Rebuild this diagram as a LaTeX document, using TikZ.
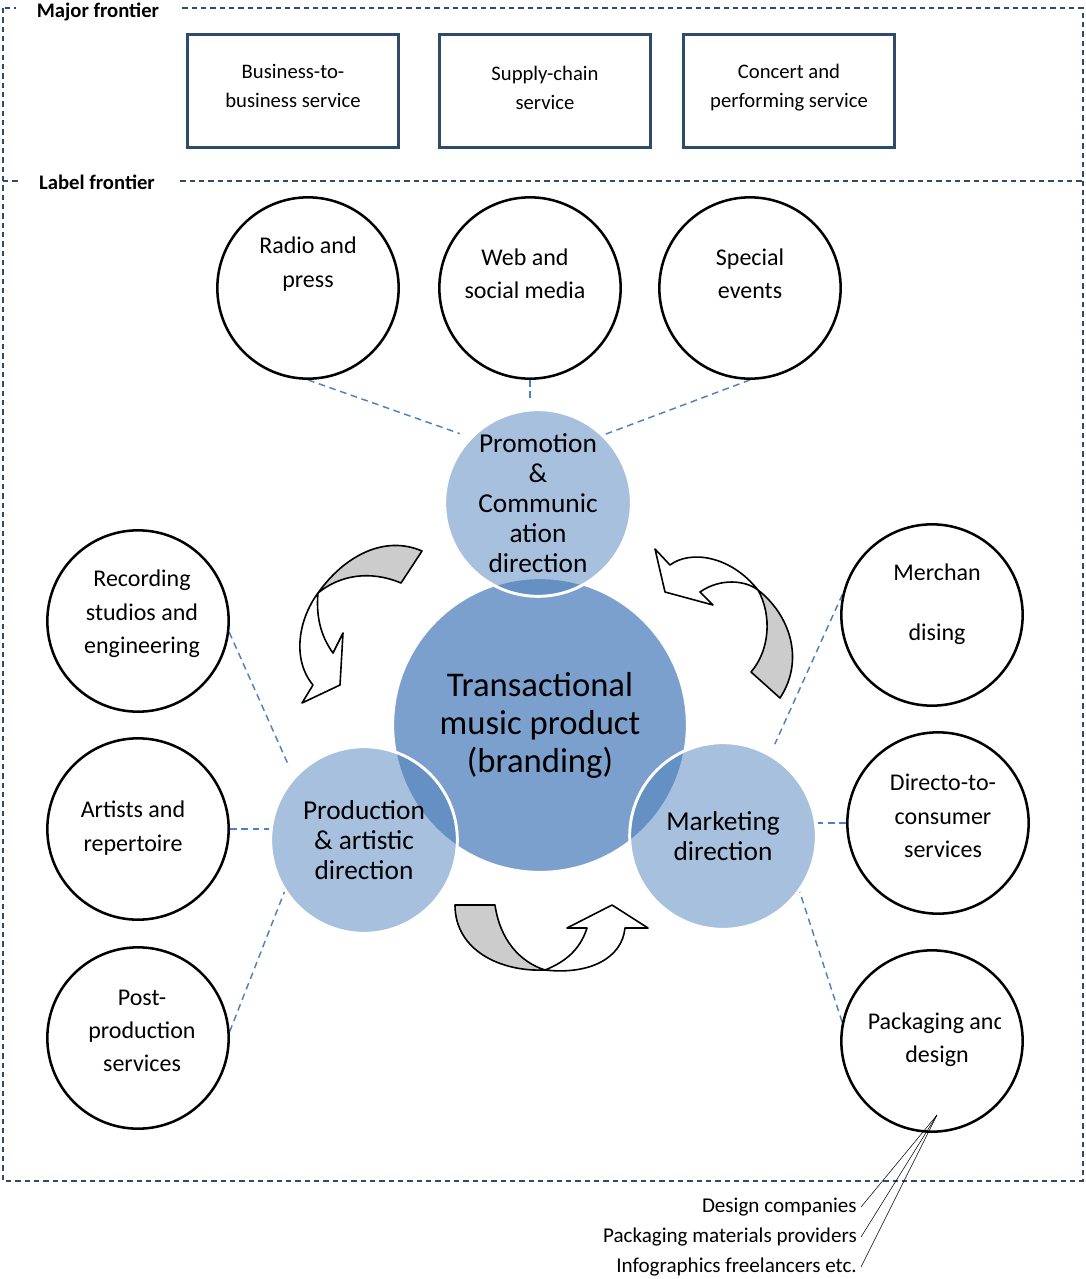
\documentclass[tikz,border=0pt]{standalone}
\usepackage{fontspec}
\setmainfont{Carlito}
\usepackage{tikz}
\usetikzlibrary{calc,backgrounds}
\definecolor{officeblue}{HTML}{4F81BD}
\definecolor{framenavy}{HTML}{2F4A6B}
\tikzstyle{frontier}=[
  draw=framenavy, line width=0.8pt, dash pattern=on 4pt off 3pt
]
\tikzstyle{frontierlabel}=[
  fill=white, inner xsep=16pt, inner ysep=1pt, font=\bfseries\fontsize{15.5}{18}\selectfont
]
\tikzstyle{service}=[
  draw=framenavy, line width=2.2pt, minimum width=158pt, minimum height=85pt,
  align=center, font=\fontsize{15.5}{22}\selectfont
]
\tikzstyle{partner}=[
  draw, circle, line width=1.9pt, fill=white, minimum size=136pt, inner sep=0pt
]
\tikzstyle{partnertext}=[
  align=center, inner sep=1pt, font=\fontsize{18}{25}\selectfont
]
\tikzstyle{hub}=[
  circle, draw=white, line width=2.2pt, fill=officeblue!75!white, minimum size=221pt,
  align=center, font=\fontsize{26}{28.5}\selectfont
]
\tikzstyle{unit}=[
  circle, draw=white, line width=2.2pt, fill=officeblue, fill opacity=0.5, text opacity=1,
  minimum size=140pt, inner sep=0pt, align=center, font=\fontsize{20.5}{22.5}\selectfont
]
\tikzstyle{tie}=[
  draw=officeblue, line width=1.1pt, dash pattern=on 5pt off 3.5pt
]
\tikzstyle{twistarrow}=[
  draw=black, line width=1.2pt, line join=round
]
\tikzstyle{supplier}=[
  anchor=east, inner sep=3pt, font=\fontsize{15.8}{18}\selectfont
]

\begin{document}
\begin{tikzpicture}[x=0.75pt,y=-0.75pt]
    \useasboundingbox (0,0) rectangle (1086,1279);
    % frontiers
    \draw [frontier] (3,8) rectangle (1083,1181);
    \draw [frontier] (3,181) -- (1083,181);
    \node (major) at (98,12) [frontierlabel] {Major frontier};
    \node (labelf) at (97,182) [frontierlabel] {Label frontier};

    \node (b2b) at (293,91) [service] {Business-to-\\business service\\[-14.5pt]};
    \node (supply) at (545,91) [service] {Supply-chain\\service\\[-17.5pt]};
    \node (concert) at (789,91) [service] {Concert and\\performing service\\[-14.5pt]};

    % centre
    \node (hub) at (540,725) [hub] {Transactional\\music product\\(branding)};
    \node (promo) at (538,503) [unit] {Promotion\\\&\\Communic\\ation\\direction};
    \node (prod) at (364,840) [unit] {Production\\\& artistic\\direction};
    \node (mkt) at (723,836) [unit] {Marketing\\direction};

    % partners
    \node (radio) at (308,288) [partner] {};
    \node (web) at (530,288) [partner] {};
    \node (special) at (750,288) [partner] {};
    \node (rec) at (138,621) [partner] {};
    \node (art) at (138,829) [partner] {};
    \node (post) at (138,1038) [partner] {};
    \node (merch) at (932,615) [partner] {};
    \node (dir) at (938,823) [partner] {};
    \node (pack) at (932,1041) [partner] {};

    \node (radiot) at (308,264) [partnertext] {Radio and\\press};
    \node (webt) at (525,274) [partnertext] {Web and\\social media};
    \node (specialt) at (750,274) [partnertext] {Special\\events};
    \node (rect) at (142,614) [partnertext] {Recording\\studios and\\engineering};
    \node (artt) at (133,828) [partnertext] {Artists and\\repertoire};
    \node (postt) at (142,1031) [partnertext] {Post-\\production\\services};
    \node (mercht) at (937,604) [partnertext] {Merchan\\[20pt]dising};
    \node (dirt) at (943,816) [partnertext] {Directo-to-\\consumer\\services};
    \begin{scope}
      \clip (845,990) rectangle (1000.5,1085);
      \node (packt) at (937,1040) [partnertext] {Packaging and\\design};
    \end{scope}

    \begin{scope}[on background layer]
      \draw [tie, shorten >=8pt] (radio.south) -- (promo.136);
      \draw [tie, shorten >=6pt] (web.south) -- (web.south |- promo.north);
      \draw [tie] (special.south) -- (promo.46);
      \draw [tie, shorten >=8pt] (rec.-7) -- (prod.138);
      \draw [tie] (art.east) -- (art.east -| prod.west);
      \draw [tie] (post.4) -- (prod.213);
      \draw [tie, shorten >=8pt] (merch.167) -- (mkt.60);
      \draw [tie] (dir.west) -- (dir.west -| mkt.east);
      \draw [tie] (pack.168) -- (mkt.-36);
    \end{scope}

    % turning arrows
    \draw [twistarrow, fill=gray!40] (318,593) .. controls (345,555) and (385,535) .. (422,551)
      -- (401,583) .. controls (370,570) and (340,575) .. cycle;
    \draw [twistarrow, fill=white] (318,593) .. controls (298,620) and (292,660) .. (313,685)
      -- (302,703) -- (340,685) -- (343,633) -- (333,653) .. controls (320,635) and (316,615) .. cycle;
    \draw [twistarrow, fill=gray!40] (758,590) .. controls (790,615) and (805,660) .. (780,698)
      -- (751,672) .. controls (770,650) and (772,615) .. cycle;
    \draw [twistarrow, fill=white] (758,590) .. controls (730,555) and (690,550) .. (670,565)
      -- (655,549) -- (665,592) -- (713,605) -- (700,592) .. controls (720,578) and (745,580) .. cycle;
    \draw [twistarrow, fill=gray!40] (455,905) -- (495,905) .. controls (500,940) and (520,962) .. (545,970)
      .. controls (500,972) and (455,950) .. cycle;
    \draw [twistarrow, fill=white] (545,970) .. controls (590,975) and (622,958) .. (625,928)
      -- (648,928) -- (612,905) -- (567,928) -- (587,928) .. controls (580,950) and (565,962) .. cycle;

    % suppliers
    \coordinate (pkdot) at (937,1115);
    \node (dsg) at (861,1207) [supplier] {Design companies};
    \node (pmp) at (861,1237) [supplier] {Packaging materials providers};
    \node (info) at (861,1267) [supplier] {Infographics freelancers etc.};
    \draw [thin] (dsg.east) -- (pkdot);
    \draw [thin] (pmp.east) -- (pkdot);
    \draw [thin] (info.east) -- (pkdot);
\end{tikzpicture}
\end{document}
